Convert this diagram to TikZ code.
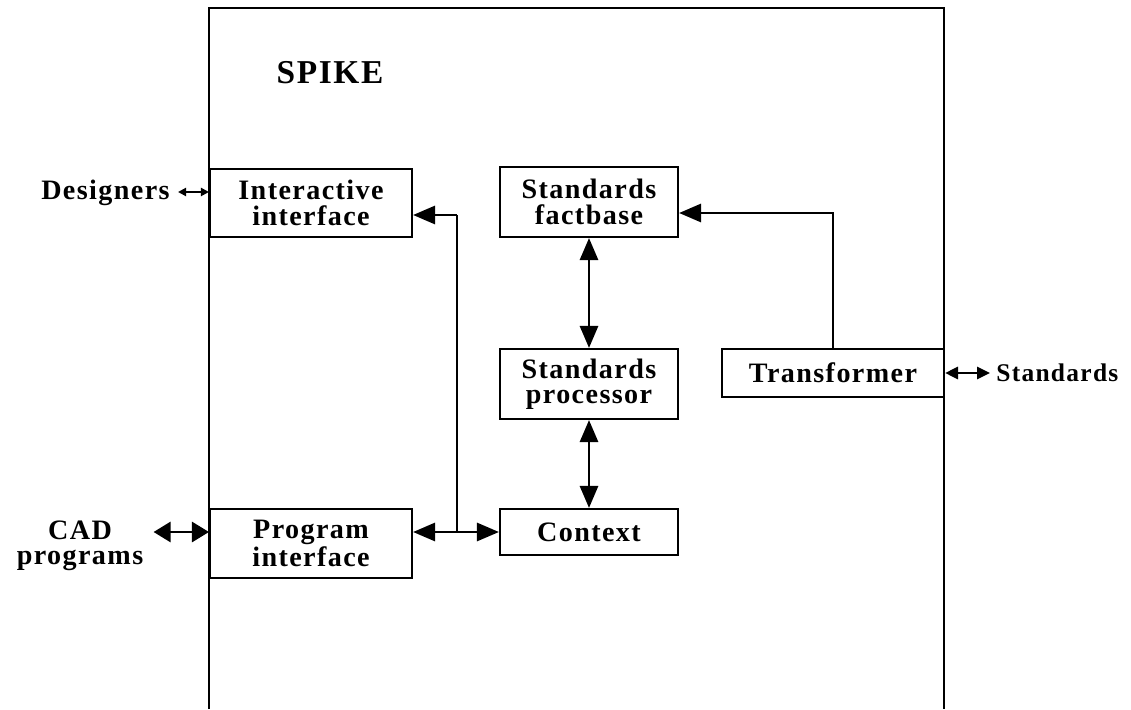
\documentclass[tikz,border=0pt]{standalone}
\usepackage{fontspec}
\setmainfont{Liberation Serif}[LetterSpace=5]
\usetikzlibrary{arrows.meta,calc}
\tikzset{
	x=0.02cm, y=-0.02cm,
	>={Triangle[length=4.4mm,width=3.6mm]},
	blk/.style={draw, line width=1.2pt, align=center, inner sep=0pt, font=\fontsize{16}{14.5}\selectfont\bfseries},
	lbl/.style={align=center, inner sep=0pt, font=\fontsize{16}{14.5}\selectfont\bfseries},
	wire/.style={line width=1.6pt},
}

\begin{document}
\begin{tikzpicture}
			%%%%% START %%%%%
			\useasboundingbox (0, 0) rectangle (1131, 709);
			\draw[line width=1.2pt] (209, 709) -- (209, 8) -- (944, 8) -- (944, 709);
			\node[lbl, font=\fontsize{19}{22}\selectfont\bfseries] (spike) at (330, 73) {SPIKE};
			
			\node[blk, minimum width=4.04cm, minimum height=1.36cm] (ii) at (311, 203) {Interactive\\interface};
			\node[blk, minimum width=4.04cm, minimum height=1.38cm] (pi) at (311, 543.5) {Program\\interface};
			\node[blk, minimum width=3.56cm, minimum height=1.40cm] (sf) at (589, 202) {Standards\\factbase};
			\node[blk, minimum width=3.56cm, minimum height=1.40cm] (sp) at (589, 384) {Standards\\processor};
			\node[blk, minimum width=3.56cm, minimum height=0.92cm] (ctx) at (589, 532) {Context};
			\node[blk, minimum width=4.44cm, minimum height=0.96cm] (tr) at (833, 373) {Transformer};
			
			\node[lbl, anchor=east] (des) at (170, 193) {Designers};
			\node[lbl] (cad) at (80, 546) {CAD\\programs};
			\node[lbl, anchor=west, font=\fontsize{14.5}{16}\selectfont\bfseries] (std) at (996, 373) {Standards};
			
			\coordinate (bus) at (457, 532);
			\coordinate (bustop) at (457, 215);
			\coordinate (trup) at (833, 213);
			
			\draw[wire] (bus) -- (bustop);
			\draw[wire, ->] (bustop) -- (bustop -| ii.east);
			\draw[wire, <->] (pi.east |- bus) -- (ctx.west |- bus);
			\draw[wire, <->] (sf) -- (sp);
			\draw[wire, <->] (sp) -- (ctx);
			\draw[wire, ->] (tr.north) -- (trup) -- (trup -| sf.east);
			
			\draw[wire, {Triangle[length=1.6mm,width=1.6mm]}-{Triangle[length=1.6mm,width=1.6mm]}] ($(des.east)+(8, -1)$) -- (ii.west |- 0, 192);
			\draw[wire, {Triangle[length=3.4mm,width=4mm]}-{Triangle[length=3.4mm,width=4mm]}] ($(cad.east |- bus)+(10, 0)$) -- (pi.west |- bus);
			\draw[wire, {Triangle[length=2.6mm,width=2.4mm]}-{Triangle[length=2.6mm,width=2.4mm]}] (tr.east) -- ($(std.west)+(-6, 0)$);
			%%%%% END %%%%%
\end{tikzpicture}
\end{document}
